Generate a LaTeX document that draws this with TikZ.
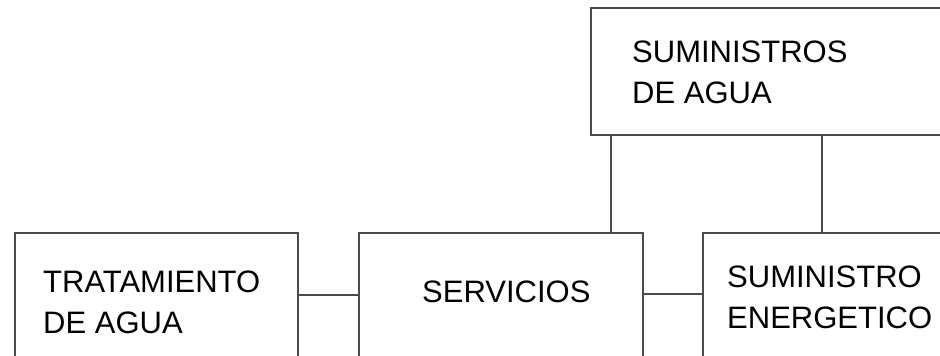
\documentclass[tikz,border=0pt]{standalone}
\usepackage{fontspec}
\setmainfont{Liberation Sans}
\begin{document}
\begin{tikzpicture}[x=1pt,y=1pt,
  box/.style={draw=black!70,line width=1.8pt,rectangle,inner sep=0pt,anchor=north west},
  conn/.style={draw=black!70,line width=1.8pt},
  lbl/.style={inner sep=0pt,anchor=base west,align=left,font=\fontsize{31}{41}\selectfont}]
\useasboundingbox (0,0) rectangle (940,-356);
\clip (0,0) rectangle (940,-356);
\node[box,minimum width=380pt,minimum height=127pt] (sa) at (590,-7) {};
\node[box,minimum width=283pt,minimum height=160pt] (tr) at (14,-232) {};
\node[box,minimum width=284pt,minimum height=160pt] (sv) at (358,-232) {};
\node[box,minimum width=270pt,minimum height=160pt] (se) at (702,-232) {};
\node[lbl] (tsa) at (632,-103) {SUMINISTROS\\DE AGUA};
\node[lbl] (ttr) at (43,-333) {TRATAMIENTO\\DE AGUA};
\node[lbl] (tsv) at (422,-302) {SERVICIOS};
\node[lbl] (tse) at (727,-328) {SUMINISTRO\\ENERGETICO};
\draw[conn] ([xshift=21pt]sa.south west) -- ([xshift=21pt]sa.south west |- sv.north);
\draw[conn] ([xshift=232pt]sa.south west) -- ([xshift=232pt]sa.south west |- se.north);
\draw[conn] ([yshift=-63pt]tr.north east) -- ([yshift=-63pt]sv.north west);
\draw[conn] ([yshift=-62pt]sv.north east) -- ([yshift=-62pt]se.north west);
\end{tikzpicture}
\end{document}
